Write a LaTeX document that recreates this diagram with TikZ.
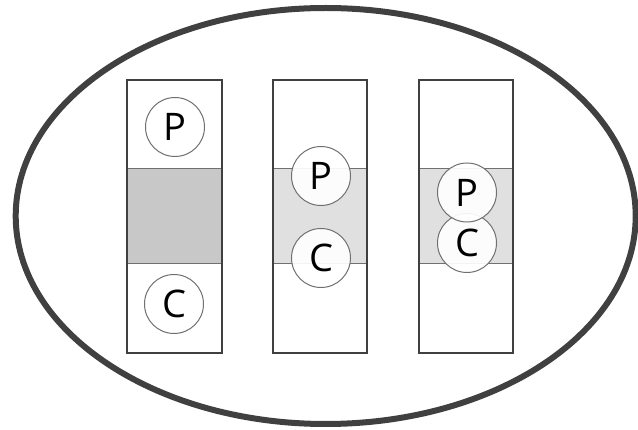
\documentclass[tikz,border=0pt]{standalone}
\usepackage{fontspec}
\setmainfont{Open Sans}
\definecolor{edge}{HTML}{404040}
\definecolor{thin}{HTML}{707070}
\definecolor{darkband}{HTML}{C8C8C8}
\definecolor{lightband}{HTML}{E0E0E0}
\begin{document}
\begin{tikzpicture}[x=1pt,y=-1pt,
  tube/.style={draw=edge,line width=2pt},
  bandline/.style={draw=thin,line width=1pt},
  ball/.style={circle,draw=thin,line width=1pt,fill=white,fill opacity=0.92,text opacity=1,minimum size=59pt,inner sep=0pt,font=\fontsize{38}{38}\selectfont},
  cell/.style={draw=edge,line width=6pt}]
\useasboundingbox (0,0) rectangle (638,430);
% outer cell
\draw[cell] (325.7,216) ellipse [x radius=310, y radius=208];
% tube 1
\fill[darkband] (127,169) rectangle (222,264);
\draw[bandline] (127,169) -- (222,169) (127,264) -- (222,264);
\draw[tube] (127,80.5) rectangle (222,353);
\node[ball] (p1) at (175,127) {P};
\node[ball] (c1) at (174,304) {C};
% tube 2
\fill[lightband] (273,169) rectangle (367,264);
\draw[bandline] (273,169) -- (367,169) (273,264) -- (367,264);
\draw[tube] (273,80.5) rectangle (367,353);
\node[ball] (p2) at (321,176) {P};
\node[ball] (c2) at (321,258) {C};
% tube 3
\fill[lightband] (419,169) rectangle (513,264);
\draw[bandline] (419,169) -- (513,169) (419,264) -- (513,264);
\draw[tube] (419,80.5) rectangle (513,353);
\node[ball] (c3) at (467,243) {C};
\node[ball] (p3) at (467,192.5) {P};
\end{tikzpicture}
\end{document}
